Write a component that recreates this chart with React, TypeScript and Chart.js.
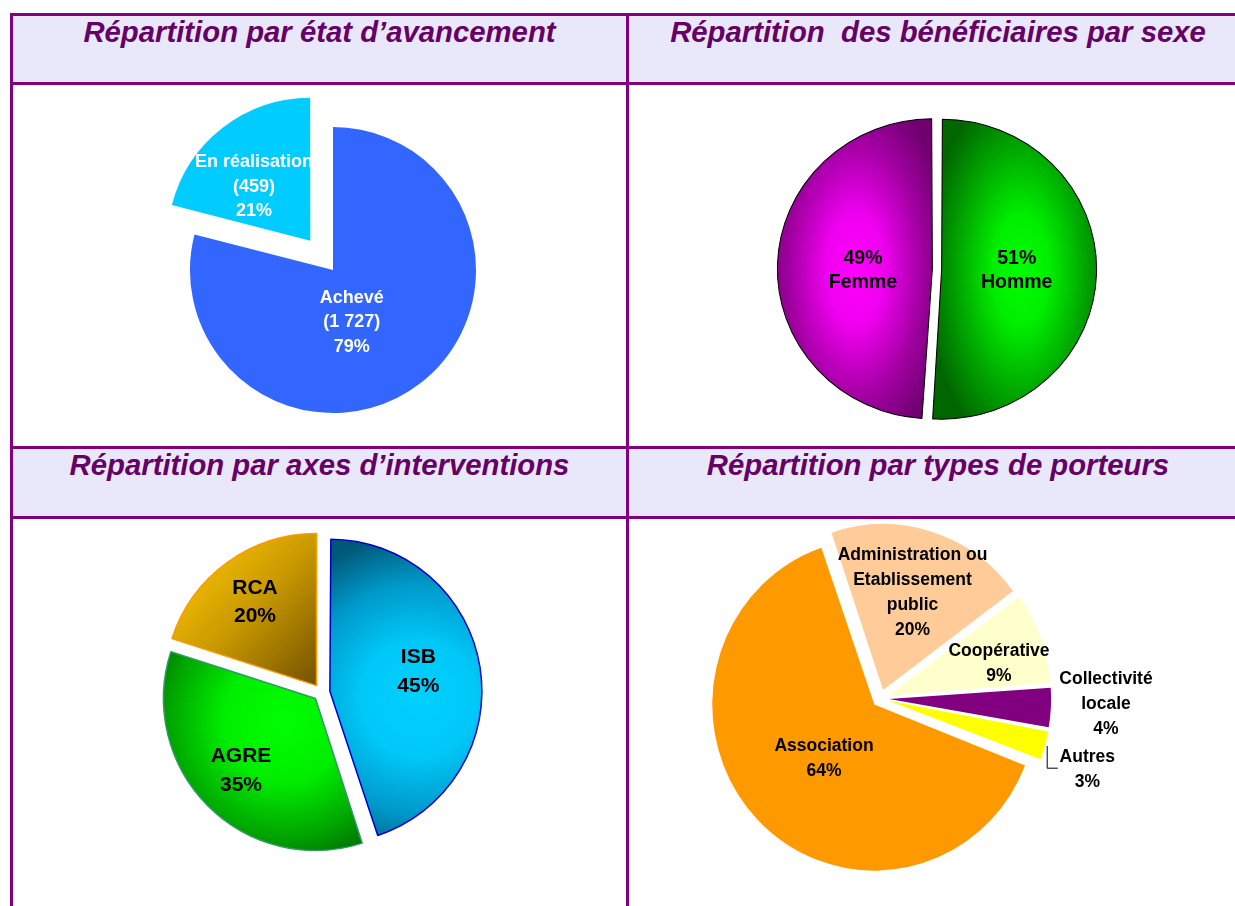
import React, { useEffect, useRef } from "react";
import { Chart, registerables } from "chart.js";

Chart.register(...registerables);

// ---------------- Data ----------------
const titles = [
  "Répartition par état d’avancement",
  "Répartition  des bénéficiaires par sexe",
  "Répartition par axes d’interventions",
  "Répartition par types de porteurs",
];

const avancementLabels = ["Achevé", "En réalisation"];
const avancementCounts = [1727, 459];

const sexeLabels = ["Homme", "Femme"];
const sexePercents = [51, 49];

const axesLabels = ["ISB", "AGRE", "RCA"];
const axesPercents = [45, 35, 20];

const porteursLabelLines = [
  ["Association"],
  ["Administration ou", "Etablissement", "public"],
  ["Coopérative"],
  ["Collectivité", "locale"],
  ["Autres"],
];
const porteursPercents = [64, 20, 9, 4, 3];

// ---------------- Helpers ----------------
const fmtThousands = (n: number) => String(n).replace(/\B(?=(\d{3})+(?!\d))/g, " ");
const pctOf = (vals: number[]) => {
  const t = vals.reduce((a, b) => a + b, 0);
  return vals.map((v) => Math.round((v * 100) / t));
};

const OFFSET_SCALE = 4; // Chart.js v4 moves an exploded arc by offset / 4

type Stop = [number, string];
type Shade =
  | { kind: "radial"; x: number; y: number; rx: number; ry: number; stops: Stop[] }
  | { kind: "linear"; x1: number; y1: number; x2: number; y2: number; stops: Stop[] };

type PieCfg = {
  id: string;
  rect: { x: number; y: number; w: number; h: number };
  center: { x: number; y: number };
  radius: number;
  rotation: number;
  sx: number;
  sy: number;
  labels: string[];
  values: number[];
  fills: string[];
  shades?: Shade[];
  borderColors?: string[];
  borderWidth: number;
  explode: number[];
  text: {
    lines: string[][];
    dx: number[];
    dy: number[];
    font: string;
    color: string;
    lineHeight: number;
  };
  leaders?: { points: [number, number][] }[];
};

const FONT = '"Liberation Sans", Arial, Helvetica, sans-serif';
const avPct = pctOf(avancementCounts);

const pies: PieCfg[] = [
  {
    id: "avancement",
    rect: { x: 13, y: 85, w: 613, h: 361 },
    center: { x: 333, y: 270 },
    radius: 143,
    rotation: 0,
    sx: 1,
    sy: 1,
    labels: avancementLabels,
    values: avancementCounts,
    fills: ["#3366FF", "#00CCFF"],
    borderWidth: 0,
    explode: [0, 37],
    text: {
      lines: avancementLabels.map((l, i) => [l, `(${fmtThousands(avancementCounts[i])})`, `${avPct[i]}%`]),
      dx: [18.7, -79],
      dy: [52.5, -83],
      font: `bold 18px ${FONT}`,
      color: "#FFFFFF",
      lineHeight: 24.5,
    },
  },
  {
    id: "sexe",
    rect: { x: 629, y: 85, w: 606, h: 361 },
    center: { x: 937, y: 269 },
    radius: 150,
    rotation: 0,
    sx: 1.033,
    sy: 1,
    labels: sexeLabels,
    values: sexePercents,
    fills: ["#00CC00", "#CC00CC"],
    shades: [
      { kind: "radial", x: 77, y: 1, rx: 92, ry: 185, stops: [[0, "#00FF00"], [0.3, "#00EE00"], [0.7, "#00A000"], [1, "#006600"]] },
      { kind: "radial", x: -74.5, y: 1, rx: 92, ry: 185, stops: [[0, "#FF00FF"], [0.3, "#F000F0"], [0.7, "#A000A0"], [1, "#700070"]] },
    ],
    borderColors: ["#000000", "#000000"],
    borderWidth: 1,
    explode: [4.5, 4.5],
    text: {
      lines: sexeLabels.map((l, i) => [`${sexePercents[i]}%`, l]),
      dx: [79.7, -74],
      dy: [2, 2],
      font: `bold 19.5px ${FONT}`,
      color: "#000000",
      lineHeight: 24,
    },
  },
  {
    id: "axes",
    rect: { x: 13, y: 519, w: 613, h: 387 },
    center: { x: 321.5, y: 692.5 },
    radius: 152,
    rotation: 0,
    sx: 1,
    sy: 1,
    labels: axesLabels,
    values: axesPercents,
    fills: ["#00CCFF", "#00EE00", "#C89800"],
    shades: [
      { kind: "radial", x: 88.5, y: 7.5, rx: 165, ry: 165, stops: [[0, "#00D0FF"], [0.35, "#00C8F8"], [0.7, "#0098C8"], [1, "#005878"]] },
      { kind: "radial", x: -31.5, y: 22.5, rx: 150, ry: 150, stops: [[0, "#00FF00"], [0.4, "#00EE00"], [0.75, "#00A800"], [1, "#006E00"]] },
      { kind: "linear", x1: -141.5, y1: -132.5, x2: -5.5, y2: -2.5, stops: [[0, "#FFC800"], [0.5, "#C89800"], [1, "#785600"]] },
    ],
    borderColors: ["#0000CC", "#339966", "#FF9900"],
    borderWidth: 1.5,
    explode: [8.5, 8.5, 8.5],
    text: {
      lines: axesLabels.map((l, i) => [l, `${axesPercents[i]}%`]),
      dx: [96.8, -80.5, -66.5],
      dy: [-21, 78.5, -90.2],
      font: `bold 21px ${FONT}`,
      color: "#000000",
      lineHeight: 28.7,
    },
  },
  {
    id: "porteurs",
    rect: { x: 629, y: 519, w: 606, h: 387 },
    center: { x: 880.5, y: 698.5 },
    radius: 162,
    rotation: 111,
    sx: 1,
    sy: 1.025,
    labels: porteursLabelLines.map((l) => l.join(" ")),
    values: porteursPercents,
    fills: ["#FF9900", "#FFCC99", "#FFFFCC", "#800080", "#FFFF00"],
    borderWidth: 0,
    explode: [8.6, 8.6, 8.6, 8.6, 8.6],
    text: {
      lines: porteursLabelLines.map((l, i) => [...l, `${porteursPercents[i]}%`]),
      dx: [-56.5, 32, 118.5, 225.5, 206.8],
      dy: [60.5, -106, -34.5, 5.8, 71.2],
      font: `bold 17.5px ${FONT}`,
      color: "#000000",
      lineHeight: 25,
    },
    leaders: [{ points: [[166.2, 47.5], [166.2, 69.2], [176.8, 69.2]] }],
  },
];

function buildPattern(
  ctx: CanvasRenderingContext2D,
  w: number,
  h: number,
  cx: number,
  cy: number,
  s: Shade
): CanvasPattern {
  const off = document.createElement("canvas");
  off.width = w;
  off.height = h;
  const g = off.getContext("2d")!;
  if (s.kind === "radial") {
    g.translate(cx + s.x, cy + s.y);
    g.scale(1, s.ry / s.rx);
    const grad = g.createRadialGradient(0, 0, 0, 0, 0, s.rx);
    s.stops.forEach(([o, c]) => grad.addColorStop(o, c));
    g.fillStyle = grad;
    const k = s.rx / s.ry;
    g.fillRect(-3 * w, -3 * h * k, 6 * w, 6 * h * k);
  } else {
    const grad = g.createLinearGradient(cx + s.x1, cy + s.y1, cx + s.x2, cy + s.y2);
    s.stops.forEach(([o, c]) => grad.addColorStop(o, c));
    g.fillStyle = grad;
    g.fillRect(0, 0, w, h);
  }
  return ctx.createPattern(off, "no-repeat")!;
}

function PieCanvas({ cfg }: { cfg: PieCfg }) {
  const ref = useRef<HTMLCanvasElement>(null);
  useEffect(() => {
    const canvas = ref.current;
    if (!canvas) return;
    const ctx = canvas.getContext("2d")!;
    const { w, h } = cfg.rect;
    const lx = cfg.center.x - cfg.rect.x;
    const ly = cfg.center.y - cfg.rect.y;
    const padding = {
      left: Math.max(0, 2 * lx - w),
      right: Math.max(0, w - 2 * lx),
      top: Math.max(0, 2 * ly - h),
      bottom: Math.max(0, h - 2 * ly),
    };
    const backgrounds: (string | CanvasPattern)[] = cfg.shades
      ? cfg.shades.map((s) => buildPattern(ctx, w, h, lx, ly, s))
      : cfg.fills;

    const ellipsePlugin = {
      id: "ellipse_" + cfg.id,
      beforeDatasetsDraw(chart: any) {
        // keep every exploded slice at the same radius (Chart.js enlarges wide slices)
        const meta = chart.getDatasetMeta(0);
        meta.data.forEach((arc: any) => {
          const off = ((arc.options && arc.options.offset) || 0) / 4;
          const circ = arc.endAngle - arc.startAngle;
          const fix = 1 - Math.sin(Math.min(Math.PI, circ));
          arc.outerRadius = cfg.radius - off * fix;
        });
        const ca = chart.chartArea;
        const cx = (ca.left + ca.right) / 2;
        const cy = (ca.top + ca.bottom) / 2;
        const c = chart.ctx;
        c.save();
        c.translate(cx, cy);
        c.scale(cfg.sx, cfg.sy);
        c.translate(-cx, -cy);
      },
      afterDatasetsDraw(chart: any) {
        chart.ctx.restore();
      },
    };

    const textPlugin = {
      id: "text_" + cfg.id,
      afterDraw(chart: any) {
        const meta = chart.getDatasetMeta(0);
        const arc = meta.data[0];
        const cx = arc.x;
        const cy = arc.y;
        const c = chart.ctx;
        const t = cfg.text;
        c.save();
        c.font = t.font;
        c.fillStyle = t.color;
        c.textAlign = "center";
        c.textBaseline = "middle";
        t.lines.forEach((lines, i) => {
          const x = cx + t.dx[i];
          const y0 = cy + t.dy[i] - ((lines.length - 1) * t.lineHeight) / 2;
          lines.forEach((s, j) => c.fillText(s, x, y0 + j * t.lineHeight));
        });
        (cfg.leaders || []).forEach((ld) => {
          c.beginPath();
          ld.points.forEach(([px, py], k) => {
            if (k === 0) c.moveTo(cx + px + 0.5, cy + py);
            else c.lineTo(cx + px + 0.5, cy + py + 0.5);
          });
          c.strokeStyle = "#000000";
          c.lineWidth = 1;
          c.stroke();
        });
        c.restore();
      },
    };

    const chart = new Chart(canvas, {
      type: "pie",
      data: {
        labels: cfg.labels,
        datasets: [
          {
            data: cfg.values,
            backgroundColor: backgrounds as any,
            borderColor: (cfg.borderColors || cfg.fills) as any,
            borderWidth: cfg.borderWidth,
            offset: cfg.explode.map((d) => d * OFFSET_SCALE),
            hoverOffset: 0,
            radius: cfg.radius,
            rotation: cfg.rotation,
            clip: false,
          } as any,
        ],
      },
      options: {
        responsive: false,
        animation: false,
        events: [],
        radius: cfg.radius,
        rotation: cfg.rotation,
        layout: { padding },
        plugins: {
          legend: { display: false },
          tooltip: { enabled: false },
        },
      } as any,
      plugins: [ellipsePlugin, textPlugin],
    });
    return () => chart.destroy();
  }, [cfg]);

  return (
    <canvas
      ref={ref}
      width={cfg.rect.w}
      height={cfg.rect.h}
      style={{
        position: "absolute",
        left: cfg.rect.x,
        top: cfg.rect.y,
        width: cfg.rect.w,
        height: cfg.rect.h,
      }}
    />
  );
}

const GRID = "#800080";
const HEADER_BG = "#E8E8FA";
const TITLE_COLOR = "#660066";

const hLines = [13, 82, 446, 516];
const vLines = [10, 626];
const headerRows = [
  { top: 16, bottom: 82 },
  { top: 449, bottom: 516 },
];
const cols = [
  { left: 13, right: 626 },
  { left: 629, right: 1247 },
];

export default function App() {
  return (
    <div
      style={{
        position: "fixed",
        left: 0,
        top: 0,
        width: 1235,
        height: 906,
        overflow: "hidden",
        background: "#FFFFFF",
      }}
    >
      {headerRows.map((r, ri) =>
        cols.map((c, ci) => (
          <div
            key={`bg${ri}${ci}`}
            style={{
              position: "absolute",
              left: c.left,
              top: r.top,
              width: c.right - c.left + 3,
              height: r.bottom - r.top,
              background: HEADER_BG,
            }}
          />
        ))
      )}
      {pies.map((p) => (
        <PieCanvas key={p.id} cfg={p} />
      ))}
      {hLines.map((y) => (
        <div
          key={`h${y}`}
          style={{ position: "absolute", left: 10, top: y, width: 1260, height: 3, background: GRID }}
        />
      ))}
      {vLines.map((x) => (
        <div
          key={`v${x}`}
          style={{ position: "absolute", left: x, top: 13, width: 3, height: 900, background: GRID }}
        />
      ))}
      {titles.map((t, i) => {
        const r = headerRows[Math.floor(i / 2)];
        const c = cols[i % 2];
        return (
          <div
            key={`t${i}`}
            style={{
              position: "absolute",
              left: c.left,
              width: c.right - c.left,
              top: r.top + 1,
              lineHeight: "30px",
              textAlign: "center",
              whiteSpace: "pre",
              fontFamily: FONT,
              fontWeight: "bold",
              fontStyle: "italic",
              fontSize: 29.3,
              color: TITLE_COLOR,
            }}
          >
            {t}
          </div>
        );
      })}
    </div>
  );
}
